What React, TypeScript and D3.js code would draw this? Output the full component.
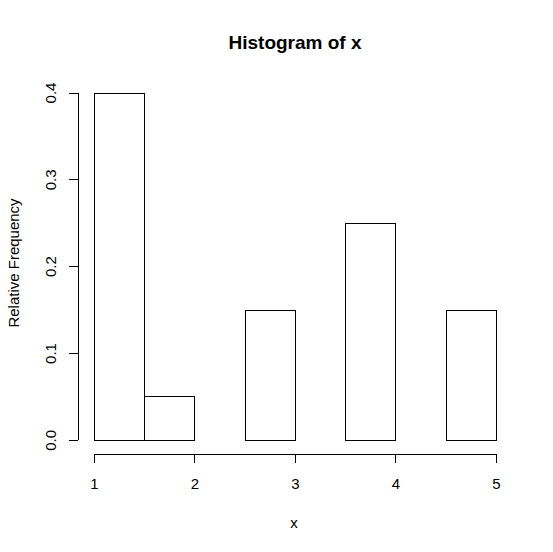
import React from "react";
import * as d3 from "d3";

const binStarts = [1, 1.5, 2, 2.5, 3, 3.5, 4, 4.5];
const binWidth = 0.5;
const relFreq = [0.4, 0.05, 0, 0.15, 0, 0.25, 0, 0.15];
const xTicks = [1, 2, 3, 4, 5];
const yTicks = [0, 0.1, 0.2, 0.3, 0.4];

export default function App() {
  const W = 553, H = 552;
  const x = d3.scaleLinear().domain([1, 5]).range([94.5, 496.3]);
  const y = d3.scaleLinear().domain([0, 0.4]).range([440.3, 93]);
  const font = "'Liberation Sans', Arial, sans-serif";
  const yAxisX = 78.3;
  const xAxisY = 454;
  return (
    <svg width={W} height={H} style={{ position: "absolute", left: 0, top: 0, background: "#fff" }} fontFamily={font}>
      <rect width={W} height={H} fill="#fff" />
      <text x={295} y={48.5} textAnchor="middle" fontSize={19} fontWeight="bold">Histogram of x</text>
      {binStarts.map((b, i) => (
        <rect key={i} x={x(b)} y={y(relFreq[i])} width={x(b + binWidth) - x(b)} height={y(0) - y(relFreq[i])}
          fill="none" stroke="#000" strokeWidth={1} shapeRendering="crispEdges" />
      ))}
      {/* y axis */}
      <line x1={yAxisX} x2={yAxisX} y1={y(0)} y2={y(0.4)} stroke="#000" shapeRendering="crispEdges" />
      {yTicks.map((t) => (
        <g key={t}>
          <line x1={yAxisX - 9} x2={yAxisX} y1={y(t)} y2={y(t)} stroke="#000" shapeRendering="crispEdges" />
          <text transform={`translate(${55.5},${y(t)}) rotate(-90)`} textAnchor="middle" fontSize={15}>{t.toFixed(1)}</text>
        </g>
      ))}
      {/* x axis */}
      <line x1={x(1)} x2={x(5)} y1={xAxisY} y2={xAxisY} stroke="#000" shapeRendering="crispEdges" />
      {xTicks.map((t) => (
        <g key={t}>
          <line x1={x(t)} x2={x(t)} y1={xAxisY} y2={xAxisY + 9} stroke="#000" shapeRendering="crispEdges" />
          <text x={x(t)} y={489} textAnchor="middle" fontSize={15}>{t}</text>
        </g>
      ))}
      <text x={294} y={528} textAnchor="middle" fontSize={15}>x</text>
      <text transform={`translate(${18.5},${263}) rotate(-90)`} textAnchor="middle" fontSize={15}>Relative Frequency</text>
    </svg>
  );
}
